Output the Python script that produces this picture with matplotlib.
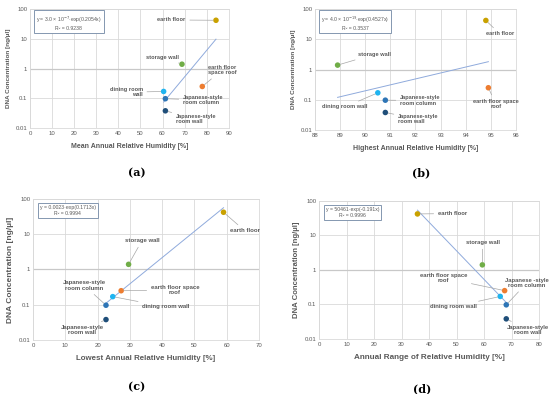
import numpy as np
import matplotlib
matplotlib.use('Agg')
from matplotlib import pyplot as plt
from matplotlib.ticker import FixedLocator, FixedFormatter

plt.rcParams['font.family'] = ['Liberation Sans', 'DejaVu Sans']

# sampling sites
sites = ['earth floor', 'storage wall', 'earth floor space roof', 'dining room wall',
         'Japanese-style room column', 'Japanese-style room wall']
colors = ['#C9A100', '#70AD47', '#ED7D31', '#1FB4F0', '#2E75B6', '#1F4E79']

# DNA concentration [ng/ul]
dna = [42, 1.4, 0.25, 0.17, 0.097, 0.038]

# humidity indicators [%]
mean_rh = [84.2, 68.8, 78.0, 60.5, 61.3, 61.3]
high_rh = [94.8, 88.9, 94.9, 90.5, 90.8, 90.8]
low_rh = [59.0, 29.6, 27.3, 24.7, 22.6, 22.6]
range_rh = [35.8, 59.4, 67.5, 65.9, 68.1, 68.1]

# fitted exponential trend y = a*exp(b*x)
fit_a = [3.0e-7, 4.0e-19, 0.0023, 50461]
fit_b = [0.2054, 0.4527, 0.1713, -0.191]
fit_text = ['y = 3.0 \u00d7 10$^{-7}$\u00b7exp(0.2054x)\nR\u00b2 = 0.9238',
            'y = 4.0 \u00d7 10$^{-19}$\u00b7exp(0.4527x)\nR\u00b2 = 0.3537',
            'y = 0.0023\u00b7exp(0.1713x)\nR\u00b2 = 0.9994',
            'y = 50461\u00b7exp(-0.191x)\nR\u00b2 = 0.9996']

xlabels = ['Mean Annual Relative Humidity [%]', 'Highest Annual Relative Humidity [%]',
           'Lowest Annual Relative Humidity [%]', 'Annual Range of Relative Humidity [%]']
xlims = [(0, 90), (88, 96), (0, 70), (0, 80)]
xsteps = [10, 1, 10, 10]
panel_tags = ['(a)', '(b)', '(c)', '(d)']

# label text per panel: (x, y, ha, text)
labels_a = [(70.5, 43, 'right', 'earth floor'),
            (60.1, 2.4, 'center', 'storage wall'),
            (80.5, 0.89, 'left', 'earth floor\nspace roof'),
            (51.1, 0.16, 'right', 'dining room\nwall'),
            (69.2, 0.087, 'left', 'Japanese-style\nroom column'),
            (66.0, 0.02, 'left', 'Japanese-style\nroom wall')]
labels_b = [(95.36, 15, 'center', 'earth floor'),
            (89.7, 3.2, 'left', 'storage wall'),
            (95.2, 0.072, 'center', 'earth floor space\nroof'),
            (90.1, 0.058, 'right', 'dining room wall'),
            (91.38, 0.095, 'left', 'Japanese-style\nroom column'),
            (91.3, 0.023, 'left', 'Japanese-style\nroom wall')]
labels_c = [(61.0, 12.4, 'left', 'earth floor'),
            (33.7, 6.5, 'center', 'storage wall'),
            (44.0, 0.26, 'center', 'earth floor space\nroof'),
            (33.8, 0.087, 'left', 'dining room wall'),
            (15.9, 0.35, 'center', 'Japanese-style\nroom column'),
            (15.3, 0.019, 'center', 'Japanese-style\nroom wall')]
labels_d = [(43.2, 43, 'left', 'earth floor'),
            (59.5, 6.2, 'center', 'storage wall'),
            (45.3, 0.59, 'center', 'earth floor space\nroof'),
            (48.9, 0.085, 'center', 'dining room wall'),
            (75.6, 0.42, 'center', 'Japanese -style\nroom column'),
            (76.0, 0.018, 'center', 'Japanese-style\nroom wall')]

xdata = [mean_rh, high_rh, low_rh, range_rh]
labels = [labels_a, labels_b, labels_c, labels_d]

positions = [[0.0545, 0.675, 0.3615, 0.302],
             [0.5727, 0.670, 0.3655, 0.307],
             [0.060, 0.137, 0.411, 0.358],
             [0.580, 0.140, 0.400, 0.350]]
tag_pos = [(0.249, 0.561), (0.766, 0.561), (0.249, 0.018), (0.767, 0.013)]
label_fs = [4.1, 4.1, 4.3, 4.2]
xlabel_fs = [5.0, 5.0, 5.7, 5.9]
ylabel_fs = [4.6, 4.6, 6.0, 5.6]
grey = '#595959'

fig = plt.figure(figsize=(5.5, 3.94), dpi=100)

for i in range(4):
    ax = fig.add_axes(positions[i])
    x = np.array(xdata[i])
    ax.set_yscale('log')
    ax.set_ylim(0.01, 100)
    ax.set_xlim(*xlims[i])
    ax.set_xticks(np.arange(xlims[i][0], xlims[i][1] + 0.01, xsteps[i]))
    ax.yaxis.set_major_locator(FixedLocator([0.01, 0.1, 1, 10, 100]))
    ax.yaxis.set_major_formatter(FixedFormatter(['0.01', '0.1', '1', '10', '100']))
    ax.yaxis.set_minor_locator(FixedLocator([]))
    ax.grid(True, color='#D9D9D9', linewidth=0.6)
    ax.axhline(1, color='#C8C8C8', linewidth=0.9, zorder=1)
    ax.set_axisbelow(True)
    for s in ax.spines.values():
        s.set_color('#D9D9D9')
        s.set_linewidth(0.6)
    ax.tick_params(length=0, labelsize=4.3, labelcolor=grey, pad=2)

    # trend line
    xt = np.array([x.min(), x.max()])
    ax.plot(xt, fit_a[i] * np.exp(fit_b[i] * xt), color='#8FAADC', linewidth=0.7, zorder=2)

    ax.scatter(x, dna, s=16, c=colors, zorder=3, linewidths=0)

    for j, (tx, ty, ha, txt) in enumerate(labels[i]):
        ax.annotate(txt, xy=(x[j], dna[j]), xytext=(tx, ty), ha=ha, va='center',
                    fontsize=label_fs[i], fontweight='bold', color=grey, linespacing=1.1,
                    arrowprops=dict(arrowstyle='-', color='#A6A6A6', lw=0.5,
                                    shrinkA=1, shrinkB=2))

    ax.text(0.03, 0.955, fit_text[i], transform=ax.transAxes, ha='left', va='top',
            fontsize=3.7, color=grey, multialignment='center',
            bbox=dict(boxstyle='square,pad=0.4', facecolor='white',
                      edgecolor='#8497B0', linewidth=0.7))

    ax.set_xlabel(xlabels[i], fontsize=xlabel_fs[i], fontweight='bold', color=grey, labelpad=5)
    ax.set_ylabel('DNA Concentration [ng/\u00b5l]', fontsize=ylabel_fs[i], fontweight='bold',
                  color=grey, labelpad=3)
    fig.text(tag_pos[i][0], tag_pos[i][1], panel_tags[i], ha='center', va='center',
             fontsize=8, fontweight='bold', family='DejaVu Serif')

fig.savefig('out.png', dpi=100)
